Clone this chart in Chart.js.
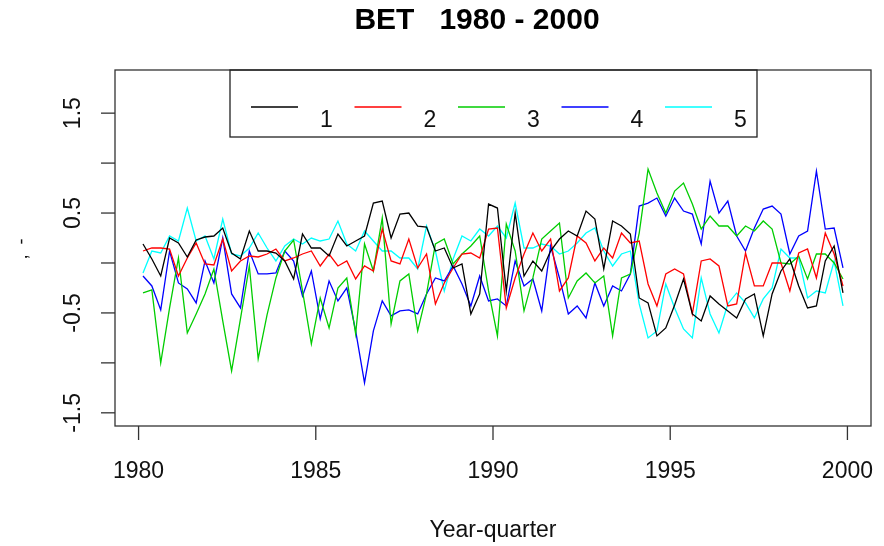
<!DOCTYPE html>
<html>
<head>
<meta charset="utf-8">
<script src="https://cdn.jsdelivr.net/npm/chart.js@4"></script>
<style>
  body { margin: 0; background: #fff; }
  canvas { display: block; }
</style>
</head>
<body>
<canvas id="chart" width="884" height="546"></canvas>
<script>
// quarterly BET values, 1980q1 - 1999q4 (plotted at mid-quarter)
const seriesNames = ['1', '2', '3', '4', '5'];
const seriesColors = ['#000000', '#FF0000', '#00CD00', '#0000FF', '#00FFFF'];
const firstQuarter = 1980.125;
const quarterStep = 0.25;

const s1 = [0.19, 0.04, -0.13, 0.25, 0.20, 0.06, 0.23, 0.26, 0.27, 0.35,
  0.10, 0.04, 0.32, 0.12, 0.12, 0.10, 0.02, -0.16, 0.29, 0.15,
  0.15, 0.07, 0.29, 0.17, 0.22, 0.27, 0.60, 0.62, 0.25, 0.49,
  0.50, 0.37, 0.36, 0.12, 0.15, -0.05, -0.01, -0.51, -0.31, 0.59,
  0.55, -0.28, 0.50, -0.13, 0.02, -0.08, 0.12, 0.24, 0.32, 0.27,
  0.52, 0.44, -0.06, 0.42, 0.37, 0.29, -0.35, -0.40, -0.73, -0.65,
  -0.42, -0.16, -0.51, -0.58, -0.33, -0.41, -0.48, -0.55, -0.36, -0.31,
  -0.73, -0.31, -0.08, 0.04, -0.23, -0.45, -0.43, 0.02, 0.17, -0.30];
const s2 = [0.12, 0.15, 0.15, 0.14, -0.13, 0.05, 0.20, -0.01, -0.02, 0.24,
  -0.08, 0.02, 0.07, 0.06, 0.09, 0.14, 0.02, 0.05, 0.09, 0.12,
  -0.03, 0.09, -0.03, 0.02, -0.16, -0.03, -0.08, 0.34, 0.02, -0.01,
  0.24, -0.05, 0.09, -0.41, -0.20, -0.05, 0.09, 0.10, 0.05, 0.34,
  0.35, -0.45, -0.15, 0.09, 0.30, 0.12, 0.24, -0.28, -0.15, 0.27,
  0.20, 0.02, 0.15, 0.05, 0.30, 0.20, 0.22, -0.21, -0.43, -0.11,
  -0.06, -0.11, -0.51, 0.02, 0.04, -0.03, -0.43, -0.41, 0.10, -0.23,
  -0.23, 0.00, 0.00, -0.28, 0.10, 0.14, -0.15, 0.30, 0.09, -0.23];
const s3 = [-0.30, -0.27, -1.00, -0.45, 0.05, -0.70, -0.51, -0.31, -0.06, -0.58,
  -1.08, -0.56, -0.03, -0.96, -0.52, -0.15, 0.12, 0.23, -0.28, -0.81,
  -0.35, -0.65, -0.25, -0.15, -0.71, 0.19, -0.08, 0.45, -0.61, -0.18,
  -0.11, -0.68, -0.31, 0.19, 0.24, -0.01, 0.09, 0.17, 0.27, -0.28,
  -0.73, 0.39, 0.12, -0.48, -0.15, 0.24, 0.32, 0.40, -0.35, -0.18,
  -0.10, -0.20, -0.13, -0.73, -0.15, -0.11, 0.30, 0.94, 0.70, 0.50,
  0.72, 0.80, 0.59, 0.34, 0.47, 0.37, 0.37, 0.27, 0.37, 0.32,
  0.42, 0.34, 0.00, -0.01, 0.07, -0.16, 0.09, 0.09, 0.00, -0.16];
const s4 = [-0.13, -0.23, -0.47, 0.12, -0.20, -0.26, -0.40, 0.02, -0.20, 0.25,
  -0.31, -0.45, 0.12, -0.11, -0.11, -0.10, 0.12, 0.02, -0.33, -0.08,
  -0.56, -0.18, -0.38, -0.25, -0.68, -1.20, -0.68, -0.38, -0.53, -0.48,
  -0.47, -0.51, -0.31, -0.15, -0.18, -0.03, -0.21, -0.43, -0.13, -0.38,
  -0.36, -0.43, 0.02, -0.23, -0.16, -0.48, 0.17, -0.15, -0.51, -0.43,
  -0.55, -0.20, -0.43, -0.23, -0.28, -0.11, 0.57, 0.60, 0.65, 0.47,
  0.65, 0.52, 0.49, 0.19, 0.82, 0.50, 0.62, 0.27, 0.12, 0.35,
  0.54, 0.57, 0.49, 0.09, 0.27, 0.32, 0.92, 0.34, 0.35, -0.05];
const s5 = [-0.10, 0.12, 0.10, 0.27, 0.22, 0.55, 0.22, 0.27, 0.04, 0.44,
  0.09, 0.07, 0.15, 0.30, 0.15, 0.02, 0.17, 0.24, 0.19, 0.25,
  0.22, 0.24, 0.42, 0.19, 0.12, 0.32, 0.22, 0.12, 0.12, 0.05,
  0.05, -0.06, 0.37, 0.12, -0.28, 0.04, 0.27, 0.22, 0.34, 0.27,
  0.37, 0.25, 0.60, 0.15, 0.15, 0.19, 0.17, 0.09, 0.12, 0.20,
  0.30, 0.35, 0.12, -0.03, 0.09, 0.12, -0.41, -0.75, -0.68, -0.21,
  -0.45, -0.66, -0.75, -0.15, -0.51, -0.70, -0.41, -0.30, -0.40, -0.55,
  -0.36, -0.25, 0.14, 0.05, 0.05, -0.35, -0.28, -0.30, 0.02, -0.43];

const xTicks = [1980, 1985, 1990, 1995, 2000];
const yTicks = [-1.5, -1, -0.5, 0, 0.5, 1, 1.5];
const yTickLabels = [-1.5, -0.5, 0.5, 1.5];

const quarters = s1.map((_, i) => firstQuarter + i * quarterStep);
const allSeries = [s1, s2, s3, s4, s5];

const font = '"Liberation Sans", Arial, sans-serif';

// R-style frame, axes, title and legend
const rPlot = {
    id: 'rPlot',
    afterDraw(chart) {
        const { ctx, chartArea: a, scales: { x, y } } = chart;
        ctx.save();
        ctx.strokeStyle = '#333';
        ctx.fillStyle = '#111';
        ctx.lineWidth = 1.3;
        ctx.strokeRect(a.left, a.top, a.right - a.left, a.bottom - a.top);

        ctx.font = '23px ' + font;
        ctx.textAlign = 'center';
        ctx.textBaseline = 'alphabetic';
        xTicks.forEach(v => {
            const px = x.getPixelForValue(v);
            ctx.beginPath();
            ctx.moveTo(px, a.bottom);
            ctx.lineTo(px, a.bottom + 14);
            ctx.stroke();
            ctx.fillText(String(v), px, 478);
        });
        yTicks.forEach(v => {
            const py = y.getPixelForValue(v);
            ctx.beginPath();
            ctx.moveTo(a.left, py);
            ctx.lineTo(a.left - 14, py);
            ctx.stroke();
        });
        yTickLabels.forEach(v => {
            const py = y.getPixelForValue(v);
            ctx.save();
            ctx.translate(80, py);
            ctx.rotate(-Math.PI / 2);
            ctx.fillText(String(v), 0, 0);
            ctx.restore();
        });

        ctx.fillText('Year-quarter', (a.left + a.right) / 2, 537);

        ctx.save();
        ctx.font = '18px ' + font;
        ctx.translate(27, 249);
        ctx.rotate(-Math.PI / 2);
        ctx.fillText(',  -', 0, 0);
        ctx.restore();

        ctx.font = 'bold 30px ' + font;
        ctx.fillStyle = '#000';
        ctx.fillText('BET   1980 - 2000', 477, 29);

        // legend
        ctx.strokeStyle = '#222';
        ctx.strokeRect(230, a.top, 527, 67);
        ctx.font = '23px ' + font;
        ctx.textAlign = 'left';
        seriesNames.forEach((name, k) => {
            const x0 = 251 + 103.5 * k;
            ctx.strokeStyle = seriesColors[k];
            ctx.lineWidth = 1.5;
            ctx.beginPath();
            ctx.moveTo(x0, 107);
            ctx.lineTo(x0 + 47, 107);
            ctx.stroke();
            ctx.fillStyle = '#111';
            ctx.fillText(name, x0 + 69, 127);
        });
        ctx.restore();
    }
};

const datasets = allSeries.map((vals, k) => ({
    label: seriesNames[k],
    data: vals.map((v, i) => ({ x: quarters[i], y: v })),
    borderColor: seriesColors[k],
    backgroundColor: seriesColors[k],
    borderWidth: 1.3,
    pointRadius: 0,
    tension: 0,
    fill: false
}));

const config = {
    type: 'line',
    data: { datasets },
    options: {
        responsive: false,
        animation: false,
        layout: { padding: { left: 115, right: 13, top: 70, bottom: 120 } },
        scales: {
            x: { type: 'linear', min: 1979.335, max: 2000.665, display: false },
            y: { type: 'linear', min: -1.632, max: 1.932, display: false }
        },
        plugins: {
            legend: { display: false },
            title: { display: false },
            tooltip: { enabled: false }
        }
    },
    plugins: [rPlot]
};

new Chart(document.getElementById('chart').getContext('2d'), config);
</script>
</body>
</html>
